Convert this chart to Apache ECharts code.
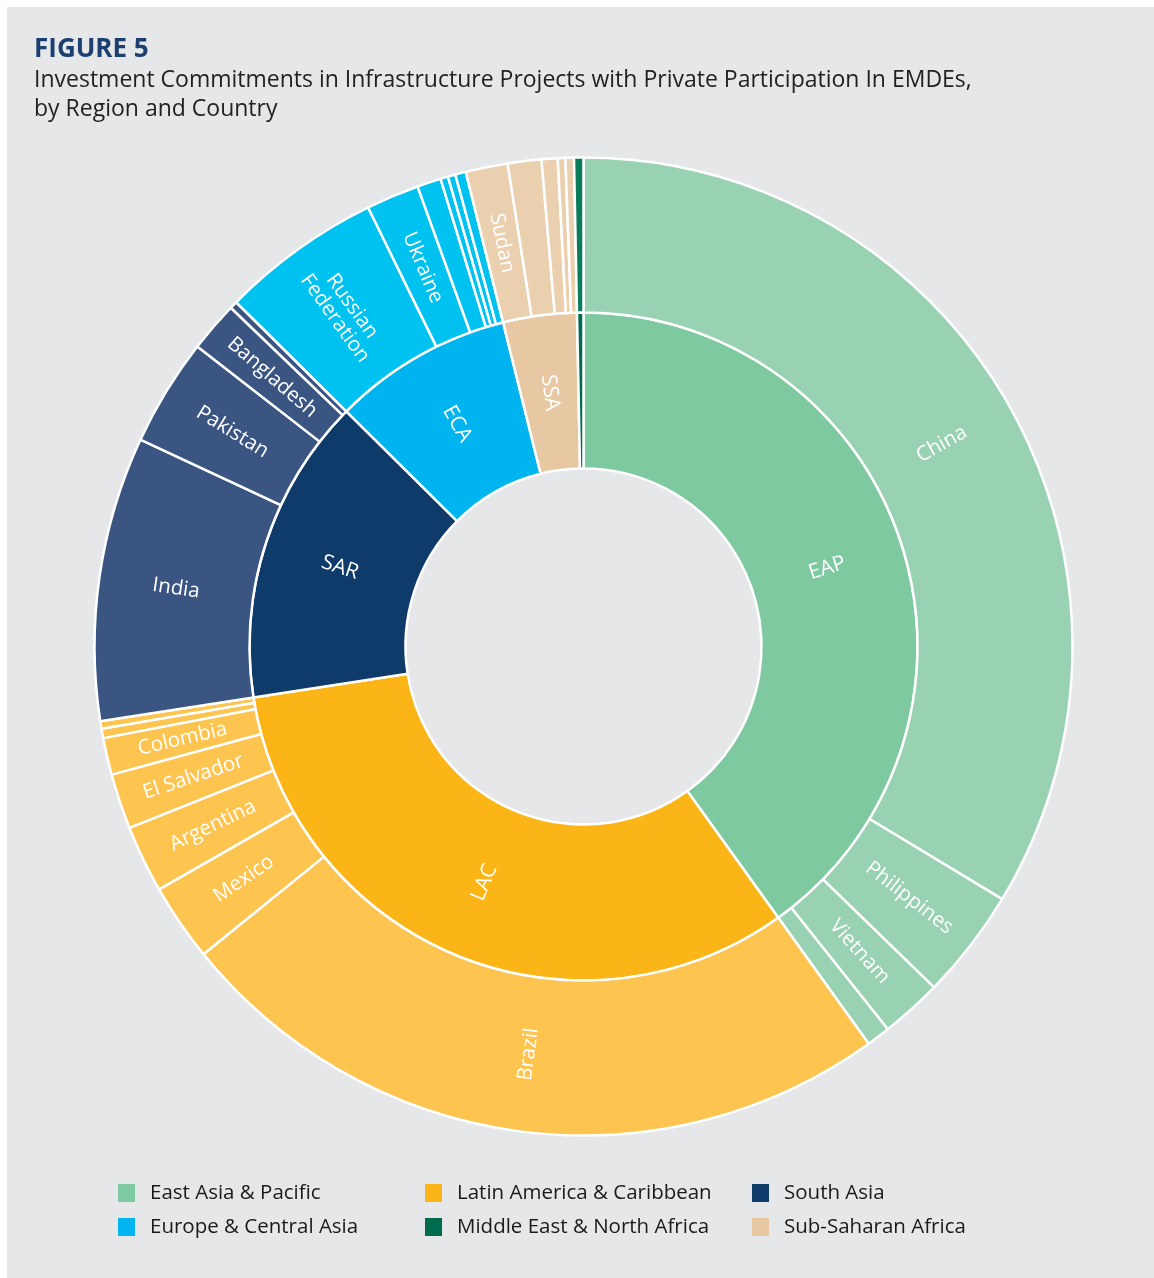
<!DOCTYPE html>
<html>
<head>
<meta charset="utf-8">
<script src="https://cdn.jsdelivr.net/npm/echarts@6/dist/echarts.min.js"></script>
<style>
html,body{margin:0;padding:0;background:#ffffff;}
#chart{width:1154px;height:1278px;}
</style>
</head>
<body>
<div id="chart"></div>
<script>
// ---- Data (shares of total commitments, %) ----
const regionCodes = ['EAP', 'LAC', 'SAR', 'ECA', 'SSA', 'MENA'];
const regionLegendNames = ['East Asia & Pacific', 'Latin America & Caribbean', 'South Asia',
                           'Europe & Central Asia', 'Sub-Saharan Africa', 'Middle East & North Africa'];
const legendOrder = ['EAP', 'LAC', 'SAR', 'ECA', 'MENA', 'SSA'];

const eapCountries = ['China', 'Philippines', 'Vietnam', ''];
const eapValues    = [33.64, 3.64, 2.03, 0.78];
const lacCountries = ['Brazil', 'Mexico', 'Argentina', 'El Salvador', 'Colombia', '', ''];
const lacValues    = [24.08, 2.56, 2.22, 1.83, 1.22, 0.31, 0.25];
const sarCountries = ['India', 'Pakistan', 'Bangladesh', ''];
const sarValues    = [9.39, 3.56, 1.67, 0.25];
const ecaCountries = ['Russian Federation', 'Ukraine', '', '', '', ''];
const ecaValues    = [5.31, 1.75, 0.79, 0.25, 0.25, 0.35];
const ssaCountries = ['Sudan', '', '', '', ''];
const ssaValues    = [1.39, 1.11, 0.53, 0.25, 0.28];
const menaCountries = [''];
const menaValues    = [0.31];

// ---- Styles ----
const innerColors = {EAP:'#7fc9a1', LAC:'#fbb517', SAR:'#0f3b6b', ECA:'#00b5ef', SSA:'#e8c8a2', MENA:'#006b4e'};
const outerColors = {EAP:'#99d2b2', LAC:'#fdc450', SAR:'#3b5582', ECA:'#00c2f0', SSA:'#ebd0b0', MENA:'#0a7c5c'};
const FONT = '"Open Sans", "Noto Sans", sans-serif';

const groups = {
  EAP: [eapCountries, eapValues],
  LAC: [lacCountries, lacValues],
  SAR: [sarCountries, sarValues],
  ECA: [ecaCountries, ecaValues],
  SSA: [ssaCountries, ssaValues],
  MENA: [menaCountries, menaValues]
};

const sunData = regionCodes.map(code => {
  const [names, vals] = groups[code];
  return {
    name: code,
    itemStyle: {color: innerColors[code]},
    label: {show: code !== 'MENA'},
    children: names.map((n, i) => ({
      name: n,
      value: vals[i],
      itemStyle: {color: outerColors[code]},
      label: {show: n !== ''}
    }))
  };
});

// ---- Legend (graphic) ----
const legendCols = [118, 425, 752];
const legendRows = [1193, 1227];
const legendGraphics = [];
legendOrder.forEach((code, i) => {
  const col = i % 3, row = Math.floor(i / 3);
  const x = legendCols[col], y = legendRows[row];
  legendGraphics.push({
    type: 'rect', left: x, top: y - 9,
    shape: {width: 17, height: 18},
    style: {fill: innerColors[code]}, silent: true
  });
  legendGraphics.push({
    type: 'text', left: x + 32, top: y - 10,
    style: {text: regionLegendNames[regionCodes.indexOf(code)], fill: '#1a1a1a',
            font: '20.5px ' + FONT}, silent: true
  });
});

const chart = echarts.init(document.getElementById('chart'), null, {renderer: 'canvas'});
chart.setOption({
  animation: false,
  backgroundColor: '#ffffff',
  graphic: [
    {type: 'rect', left: 7, top: 7, z: -100, silent: true,
     shape: {width: 1147, height: 1271}, style: {fill: '#e6e7e9'}},
    {type: 'text', left: 34, top: 37, silent: true,
     style: {text: 'FIGURE 5', fill: '#1b3f6e', font: 'bold 26px ' + FONT}},
    {type: 'text', left: 34, top: 66, silent: true,
     style: {text: 'Investment Commitments in Infrastructure Projects with Private Participation In EMDEs,\nby Region and Country',
             fill: '#222222', font: '23px ' + FONT, lineHeight: 29}}
  ].concat(legendGraphics),
  series: [{
    type: 'sunburst',
    center: [583.5, 646.5],
    radius: [178, 489],
    sort: null,
    startAngle: 90,
    clockwise: true,
    nodeClick: false,
    emphasis: {disabled: true},
    itemStyle: {borderColor: '#ffffff', borderWidth: 2.5},
    label: {
      color: '#ffffff', fontFamily: FONT, fontSize: 20.5, rotate: 'radial',
      formatter: p => p.name === 'Russian Federation' ? 'Russian\nFederation' : p.name
    },
    levels: [
      {},
      {r0: 178, r: 334, label: {fontSize: 21}},
      {r0: 334, r: 489}
    ],
    data: sunData
  }]
});
</script>
</body>
</html>
